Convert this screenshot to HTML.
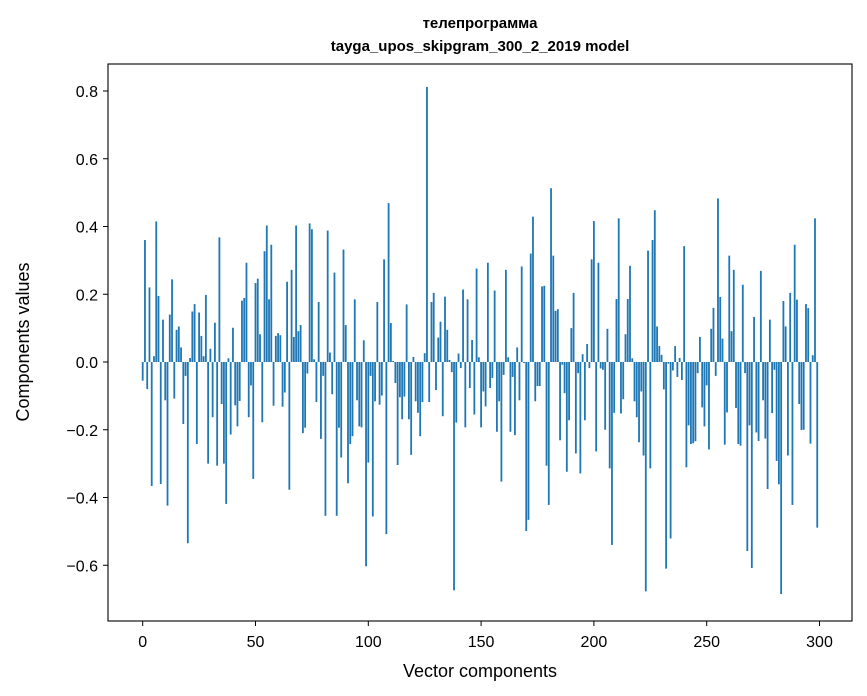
<!DOCTYPE html>
<html><head><meta charset="utf-8"><style>
body{margin:0;background:#fff;}
svg{display:block;font-family:"Liberation Sans","DejaVu Sans",sans-serif;}
</style></head><body>
<svg id="chart" width="867" height="696" xmlns="http://www.w3.org/2000/svg">
<rect width="867" height="696" fill="#fff"/>
<text x="480" y="28" text-anchor="middle" font-size="15" font-weight="bold">телепрограмма</text>
<text x="480" y="51" text-anchor="middle" font-size="15" font-weight="bold">tayga_upos_skipgram_300_2_2019 model</text>
<g id="bars"></g>
<g id="axes"></g>
<rect x="108" y="64" width="744" height="557" fill="none" stroke="#000" stroke-width="1.1"/>
<text x="480" y="677" text-anchor="middle" font-size="18">Vector components</text>
<text transform="translate(29,342) rotate(-90)" text-anchor="middle" font-size="18">Components values</text>
</svg>
<script>
const values = [
-0.055,0.36,-0.08,0.22,-0.366,0.017,0.415,0.195,-0.36,0.125,
-0.113,-0.424,0.14,0.244,-0.108,0.095,0.105,0.043,-0.183,-0.041,
-0.535,0.012,0.149,0.171,-0.242,0.146,0.077,0.017,0.198,-0.3,
0.039,-0.163,0.116,-0.306,0.368,-0.124,-0.3,-0.419,0.011,-0.214,
0.101,-0.128,-0.19,-0.115,0.181,0.189,0.293,-0.163,-0.069,
-0.345,0.233,0.246,0.082,-0.178,0.327,0.403,0.185,0.346,-0.129,
0.077,0.085,0.079,-0.132,-0.09,0.237,-0.377,0.272,0.074,0.403,
0.091,0.109,-0.21,-0.194,-0.034,0.409,0.392,0.008,-0.118,0.177,
-0.227,-0.041,-0.454,0.388,0.028,-0.095,0.264,-0.454,-0.194,-0.282,
0.332,0.109,-0.358,-0.242,-0.219,0.185,-0.113,-0.19,-0.193,0.064,
-0.603,-0.297,-0.041,-0.456,-0.116,0.177,-0.126,-0.099,0.303,-0.508,
0.469,0.115,0.003,-0.062,-0.304,-0.104,-0.169,-0.102,0.17,-0.169,
-0.274,0.015,-0.116,-0.15,-0.219,-0.118,0.026,0.812,-0.118,0.177,
0.204,-0.083,0.072,0.119,-0.16,0.193,0.095,0.006,-0.03,-0.674,
-0.179,0.025,-0.018,0.214,-0.193,0.185,-0.077,0.065,-0.155,0.276,
0.014,-0.193,-0.087,-0.131,0.293,-0.077,-0.047,0.211,-0.206,-0.116,
-0.353,-0.038,0.272,0.014,-0.206,-0.044,-0.216,0.043,-0.113,0.282,
-0.003,-0.499,-0.466,0.32,0.429,-0.116,-0.071,-0.071,0.223,0.225,
-0.306,-0.422,0.513,0.314,0.151,0.156,-0.231,-0.008,-0.092,-0.324,
-0.172,0.1,0.204,-0.27,-0.033,-0.329,0.023,-0.172,0.053,-0.018,
0.303,0.416,-0.264,0.293,-0.019,-0.023,-0.2,0.098,-0.314,-0.54,
-0.15,0.186,0.424,-0.152,-0.11,0.082,0.186,0.284,0.011,-0.116,
-0.163,-0.237,-0.087,-0.276,-0.677,0.329,-0.314,0.36,0.448,0.105,
0.047,0.021,-0.081,-0.61,-0.005,-0.521,-0.025,0.047,-0.044,0.012,
-0.053,0.342,-0.311,-0.187,-0.242,-0.24,-0.234,-0.033,0.074,-0.134,
-0.19,-0.069,-0.258,0.098,0.16,-0.041,0.483,0.192,0.069,-0.244,
-0.149,0.314,0.091,0.272,-0.136,-0.242,-0.247,0.228,-0.033,-0.558,
-0.187,-0.608,0.133,-0.208,-0.233,0.269,-0.113,-0.226,-0.375,0.125,
-0.151,-0.023,-0.292,-0.361,-0.685,0.18,0.105,-0.276,0.204,-0.422,
0.346,0.184,-0.124,-0.201,-0.2,0.171,0.159,-0.241,0.02,0.424,-0.489
];
const xTicks = [0,50,100,150,200,250,300];
const yTicks = [-0.6,-0.4,-0.2,0.0,0.2,0.4,0.6,0.8];

const NS = "http://www.w3.org/2000/svg";
const X0 = 142.7, XS = 2.256;
const Y0 = 362, YS = 338.75;
function xs(i){ return X0 + i*XS; }
function ys(v){ return Y0 - v*YS; }

const bars = document.getElementById('bars');
values.forEach(function(v,i){
  const r = document.createElementNS(NS,'rect');
  
  
  const y1 = ys(Math.max(v,0)), y2 = ys(Math.min(v,0));
  r.setAttribute('x', xs(i-0.4));
  r.setAttribute('width', XS*0.8);
  r.setAttribute('y', y1);
  r.setAttribute('height', Math.max(y2-y1,0.01));
  r.setAttribute('fill','#1f77b4');
  bars.appendChild(r);
});

const axes = document.getElementById('axes');
xTicks.forEach(function(t){
  const l = document.createElementNS(NS,'line');
  
  
  l.setAttribute('x1',xs(t)); l.setAttribute('x2',xs(t));
  l.setAttribute('y1',621); l.setAttribute('y2',626);
  l.setAttribute('stroke','#000'); l.setAttribute('stroke-width','1');
  axes.appendChild(l);
  const tx = document.createElementNS(NS,'text');
  
  
  tx.setAttribute('x',xs(t)); tx.setAttribute('y',647);
  tx.setAttribute('text-anchor','middle'); tx.setAttribute('font-size','16');
  tx.textContent = String(t);
  axes.appendChild(tx);
});
yTicks.forEach(function(t){
  const l = document.createElementNS(NS,'line');
  
  
  l.setAttribute('x1',103); l.setAttribute('x2',108);
  l.setAttribute('y1',ys(t)); l.setAttribute('y2',ys(t));
  l.setAttribute('stroke','#000'); l.setAttribute('stroke-width','1');
  axes.appendChild(l);
  const tx = document.createElementNS(NS,'text');
  
  
  tx.setAttribute('x',98); tx.setAttribute('y',ys(t)+6);
  tx.setAttribute('text-anchor','end'); tx.setAttribute('font-size','16');
  tx.textContent = (t<0?'\u2212':'') + Math.abs(t).toFixed(1);
  axes.appendChild(tx);
});
</script>
</body></html>
